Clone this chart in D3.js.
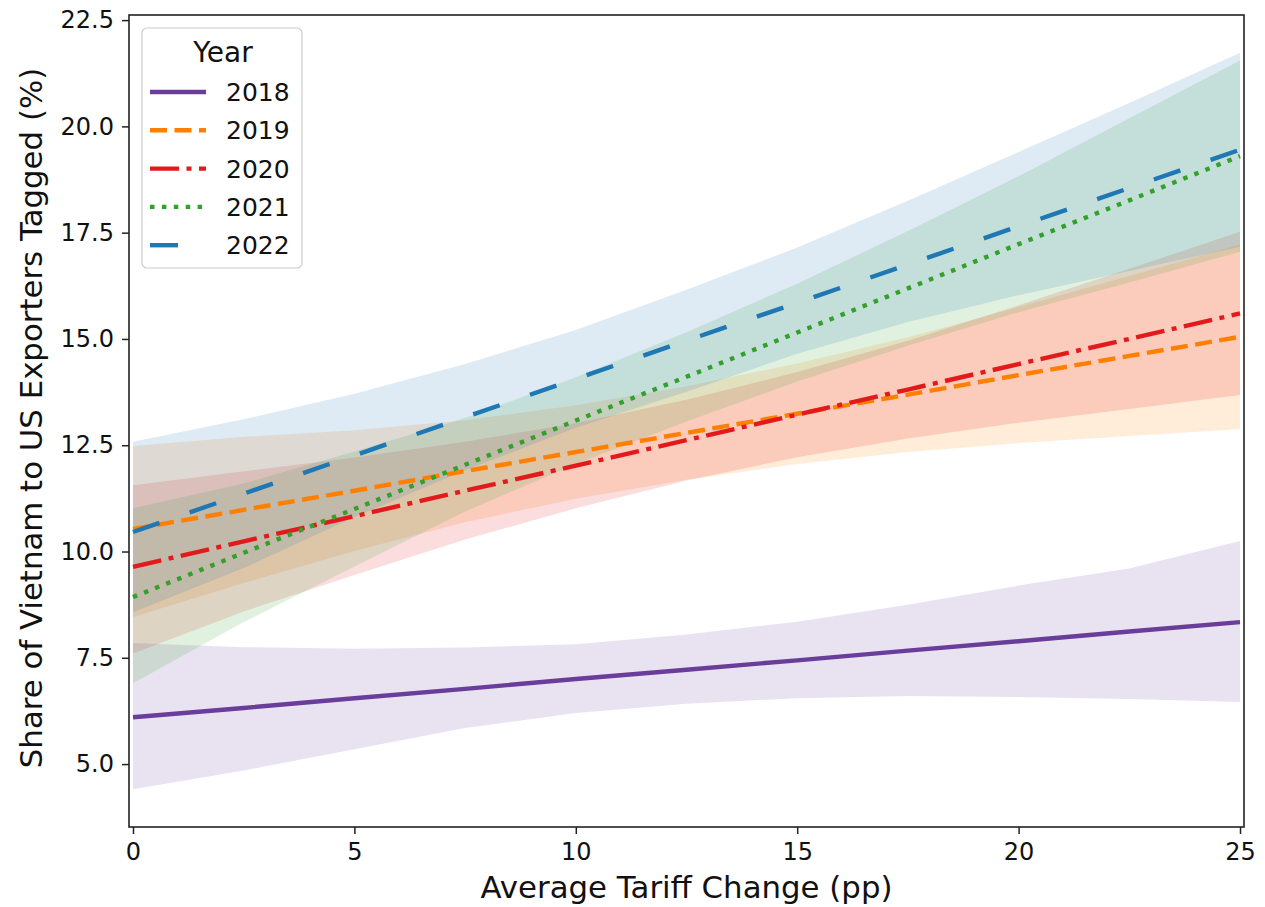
<!DOCTYPE html>
<html>
<head>
<meta charset="utf-8">
<script src="https://cdn.jsdelivr.net/npm/d3@7"></script>
<style>
  body { margin: 0; background: #fff; }
  svg { display: block; font-family: "DejaVu Sans", sans-serif; }
</style>
</head>
<body>
<svg id="chart"></svg>
<script>
// tariff change grid (pp)
const tariff = [0, 2.5, 5, 7.5, 10, 12.5, 15, 17.5, 20, 22.5, 25];
const years = ["2018", "2019", "2020", "2021", "2022"];

// fitted share (%) and confidence bands
const mean2018 = [6.10, 6.32, 6.55, 6.77, 7.00, 7.22, 7.44, 7.67, 7.89, 8.12, 8.34];
const lo2018 = [4.41, 4.85, 5.35, 5.85, 6.20, 6.42, 6.55, 6.60, 6.58, 6.53, 6.46];
const hi2018 = [7.85, 7.75, 7.71, 7.74, 7.82, 8.05, 8.35, 8.75, 9.20, 9.60, 10.25];

const mean2019 = [10.53, 10.98, 11.43, 11.89, 12.34, 12.79, 13.24, 13.69, 14.15, 14.60, 15.05];
const lo2019 = [8.46, 9.26, 10.01, 10.69, 11.24, 11.69, 12.06, 12.34, 12.55, 12.72, 12.88];
const hi2019 = [12.48, 12.70, 12.85, 13.09, 13.44, 13.89, 14.42, 15.04, 15.75, 16.48, 17.22];

const mean2020 = [9.64, 10.24, 10.83, 11.43, 12.02, 12.62, 13.22, 13.81, 14.41, 15.00, 15.60];
const lo2020 = [7.60, 8.59, 9.45, 10.28, 11.02, 11.67, 12.22, 12.66, 13.03, 13.35, 13.68];
const hi2020 = [11.56, 11.89, 12.21, 12.58, 13.02, 13.57, 14.22, 14.96, 15.79, 16.65, 17.52];

const mean2021 = [8.93, 9.97, 11.00, 12.04, 13.08, 14.11, 15.15, 16.19, 17.23, 18.26, 19.30];
const lo2021 = [6.90, 8.34, 9.65, 10.94, 12.06, 13.06, 14.00, 14.84, 15.63, 16.33, 17.05];
const hi2021 = [11.02, 11.60, 12.35, 13.14, 14.10, 15.16, 16.30, 17.54, 18.83, 20.19, 21.55];

const mean2022 = [10.46, 11.36, 12.26, 13.16, 14.06, 14.96, 15.85, 16.75, 17.65, 18.55, 19.45];
const lo2022 = [8.57, 9.61, 10.81, 11.91, 12.91, 13.76, 14.65, 15.40, 16.03, 16.60, 17.17];
const hi2022 = [12.58, 13.11, 13.71, 14.41, 15.21, 16.16, 17.15, 18.25, 19.40, 20.55, 21.73];

const xTicks = [0, 5, 10, 15, 20, 25];
const yTicks = [5, 7.5, 10, 12.5, 15, 17.5, 20, 22.5];

const series = [
  { year: "2018", mean: mean2018, lo: lo2018, hi: hi2018, color: "#6a3d9a", dash: null },
  { year: "2019", mean: mean2019, lo: lo2019, hi: hi2019, color: "#ff7f00", dash: "17 7.5" },
  { year: "2020", mean: mean2020, lo: lo2020, hi: hi2020, color: "#e31a1c", dash: "29 7.5 5 7.5" },
  { year: "2021", mean: mean2021, lo: lo2021, hi: hi2021, color: "#33a02c", dash: "4.5 7.4" },
  { year: "2022", mean: mean2022, lo: lo2022, hi: hi2022, color: "#1f78b4", dash: "28 32" }
];

const width = 1265;
const height = 907;
const margin = { top: 15, right: 21, bottom: 80, left: 129 };

const svg = d3.select("#chart").attr("width", width).attr("height", height);

const x = d3.scaleLinear().domain([-0.09, 25.09]).range([margin.left, width - margin.right]);
const y = d3.scaleLinear().domain([3.52, 22.62]).range([height - margin.bottom, margin.top]);

svg.append("defs").append("clipPath").attr("id", "plot-clip")
  .append("rect")
  .attr("x", margin.left).attr("y", margin.top)
  .attr("width", width - margin.left - margin.right)
  .attr("height", height - margin.top - margin.bottom);

const plot = svg.append("g").attr("clip-path", "url(#plot-clip)");

// bands
const area = d3.area()
  .x((d, i) => x(tariff[i]))
  .y0(d => y(d[0]))
  .y1(d => y(d[1]));

series.forEach(s => {
  const pts = s.lo.map((v, i) => [v, s.hi[i]]);
  plot.append("path")
    .attr("d", area(pts))
    .attr("fill", s.color)
    .attr("fill-opacity", 0.15);
});

// fitted lines
const line = d3.line()
  .x((d, i) => x(tariff[i]))
  .y(d => y(d));

series.forEach(s => {
  plot.append("path")
    .attr("d", line(s.mean))
    .attr("fill", "none")
    .attr("stroke", s.color)
    .attr("stroke-width", 4.4)
    .attr("stroke-dasharray", s.dash)
    .attr("stroke-linecap", "butt");
});

// axes
const xAxis = svg.append("g")
  .attr("transform", `translate(0,${height - margin.bottom})`)
  .call(d3.axisBottom(x).tickValues(xTicks).tickFormat(d3.format("d")).tickSize(7).tickPadding(9));

const yAxis = svg.append("g")
  .attr("transform", `translate(${margin.left},0)`)
  .call(d3.axisLeft(y).tickValues(yTicks).tickFormat(d3.format(".1f")).tickSize(7).tickPadding(8));

[xAxis, yAxis].forEach(a => {
  a.select(".domain").remove();
  a.selectAll(".tick line").attr("stroke", "#222").attr("stroke-width", 1.5);
  a.selectAll(".tick text")
    .attr("fill", "#111")
    .style("font-size", "24px")
    .style("font-family", "'DejaVu Sans', sans-serif");
});

// frame
svg.append("rect")
  .attr("x", margin.left).attr("y", margin.top)
  .attr("width", width - margin.left - margin.right)
  .attr("height", height - margin.top - margin.bottom)
  .attr("fill", "none")
  .attr("stroke", "#222")
  .attr("stroke-width", 1.6);

// axis labels
svg.append("text")
  .attr("x", (margin.left + width - margin.right) / 2)
  .attr("y", 898)
  .attr("text-anchor", "middle")
  .attr("fill", "#111")
  .style("font-size", "30.8px")
  .text("Average Tariff Change (pp)");

svg.append("text")
  .attr("transform", `translate(42,${(margin.top + height - margin.bottom) / 2 - 3}) rotate(-90)`)
  .attr("text-anchor", "middle")
  .attr("fill", "#111")
  .style("font-size", "30.8px")
  .text("Share of Vietnam to US Exporters Tagged (%)");

// legend
const legend = svg.append("g").attr("transform", "translate(142,28)");

legend.append("rect")
  .attr("width", 160)
  .attr("height", 240)
  .attr("rx", 5)
  .attr("fill", "#fff")
  .attr("fill-opacity", 0.8)
  .attr("stroke", "#cccccc")
  .attr("stroke-width", 1.2);

legend.append("text")
  .attr("x", 81)
  .attr("y", 34)
  .attr("text-anchor", "middle")
  .attr("fill", "#111")
  .style("font-size", "28px")
  .text("Year");

const items = legend.selectAll(".item")
  .data(series)
  .join("g")
  .attr("class", "item")
  .attr("transform", (d, i) => `translate(0,${64 + i * 38.3})`);

items.append("line")
  .attr("x1", 8).attr("x2", 64)
  .attr("stroke", d => d.color)
  .attr("stroke-width", 4.4)
  .attr("stroke-dasharray", d => d.dash);

items.append("text")
  .attr("x", 84)
  .attr("dy", "0.36em")
  .attr("fill", "#111")
  .style("font-size", "25px")
  .text(d => d.year);
</script>
</body>
</html>
